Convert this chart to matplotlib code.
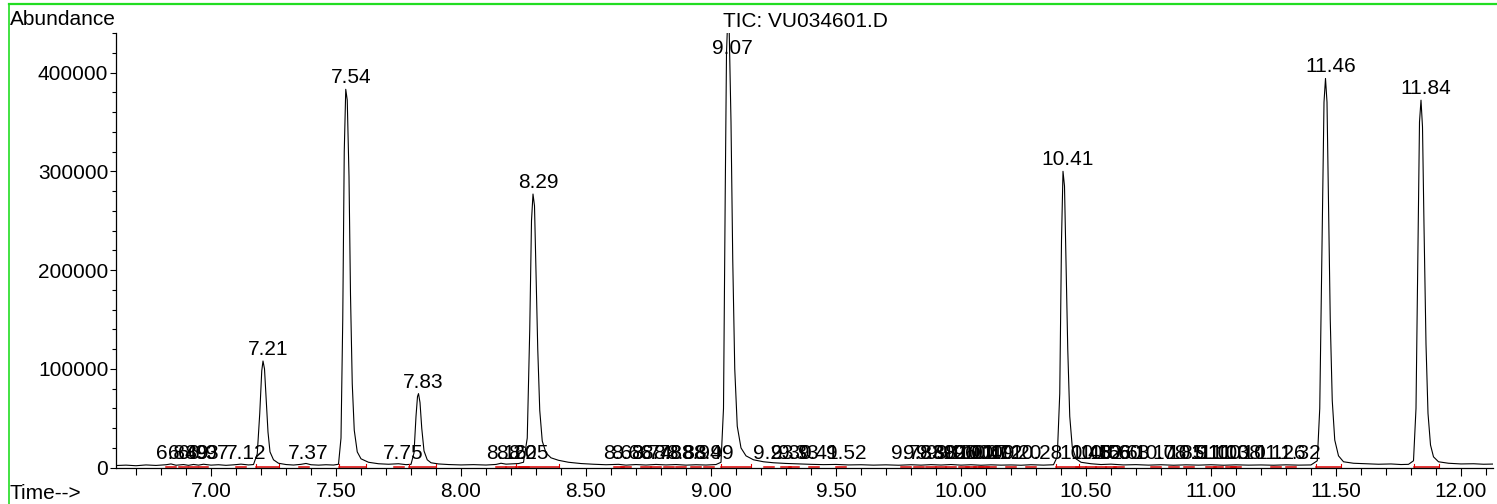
import matplotlib
matplotlib.use("Agg")
import matplotlib.pyplot as plt
from matplotlib.lines import Line2D
from matplotlib.ticker import MultipleLocator

plt.rcParams['font.family'] = ['Liberation Sans', 'DejaVu Sans']

# TIC trace (time in min, abundance)
times = [6.62, 6.66, 6.70, 6.74, 6.78, 6.82, 6.84, 6.86, 6.89, 6.91, 6.93, 6.95, 6.97, 7.00,
         7.03, 7.06, 7.09, 7.12, 7.15, 7.17, 7.185, 7.195, 7.203, 7.208, 7.214, 7.22, 7.228,
         7.236, 7.25, 7.27, 7.30, 7.33, 7.36, 7.38, 7.40, 7.43, 7.46, 7.49, 7.51, 7.52, 7.527,
         7.533, 7.539, 7.545, 7.552, 7.558, 7.565, 7.573, 7.585, 7.60, 7.63, 7.67, 7.71, 7.75,
         7.78, 7.80, 7.812, 7.82, 7.826, 7.830, 7.836, 7.843, 7.852, 7.865, 7.88, 7.91, 7.95,
         8.00, 8.05, 8.10, 8.14, 8.16, 8.18, 8.20, 8.23, 8.25, 8.265, 8.275, 8.282, 8.288,
         8.294, 8.30, 8.307, 8.315, 8.325, 8.34, 8.36, 8.39, 8.43, 8.48, 8.53, 8.58, 8.63,
         8.66, 8.70, 8.74, 8.78, 8.82, 8.86, 8.90, 8.94, 8.98, 9.02, 9.04, 9.05, 9.057, 9.062,
         9.067, 9.073, 9.08, 9.087, 9.095, 9.105, 9.12, 9.14, 9.17, 9.21, 9.25, 9.30, 9.35,
         9.40, 9.45, 9.50, 9.55, 9.60, 9.65, 9.70, 9.75, 9.80, 9.84, 9.88, 9.92, 9.96, 10.00,
         10.04, 10.08, 10.12, 10.16, 10.20, 10.24, 10.28, 10.33, 10.37, 10.385, 10.395, 10.402,
         10.408, 10.414, 10.42, 10.427, 10.435, 10.445, 10.46, 10.48, 10.52, 10.56, 10.60,
         10.65, 10.70, 10.75, 10.80, 10.85, 10.90, 10.95, 11.00, 11.05, 11.10, 11.15, 11.20,
         11.25, 11.30, 11.35, 11.40, 11.425, 11.435, 11.445, 11.452, 11.458, 11.464, 11.47,
         11.477, 11.485, 11.495, 11.51, 11.53, 11.57, 11.62, 11.67, 11.72, 11.76, 11.79, 11.81,
         11.82, 11.828, 11.834, 11.84, 11.846, 11.852, 11.86, 11.868, 11.878, 11.89, 11.91,
         11.95, 12.00, 12.05, 12.09, 12.13]
abundance = [2200, 2600, 2000, 2800, 2300, 3000, 3800, 2500, 3200, 2400, 3300, 2600, 3500, 2600,
             3000, 2400, 2900, 3600, 2800, 3200, 14000, 55000, 98000, 108000, 100000, 72000, 36000,
             16000, 8000, 4500, 3200, 2700, 3400, 4300, 3000, 2600, 3000, 2700, 3500, 30000, 150000,
             320000, 383000, 372000, 295000, 175000, 85000, 38000, 16000, 9000, 5500, 4000, 3500, 4000,
             3100, 3400, 15000, 52000, 72000, 75000, 66000, 40000, 17000, 8000, 5000, 3800, 3200,
             2800, 3100, 2700, 3300, 4500, 3600, 3800, 4200, 5500, 30000, 140000, 250000, 277000,
             265000, 200000, 120000, 58000, 27000, 15000, 10000, 7500, 5500, 4200, 3500, 3000, 3400,
             2600, 3200, 2700, 3300, 2800, 3200, 2600, 3000, 2700, 3200, 5500, 60000, 280000, 420000,
             455000, 440000, 350000, 210000, 100000, 42000, 20000, 12000, 8000, 6000, 5000, 4300, 3800,
             3400, 3100, 3300, 2800, 3000, 2600, 2900, 2500, 3000, 2600, 3100, 2700, 3200, 2600,
             3000, 2500, 2900, 2600, 2800, 2500, 3000, 2600, 3000, 11000, 75000, 230000,
             300000, 285000, 210000, 120000, 52000, 21000, 9000, 5500, 4000, 3200, 3600,
             2800, 3100, 2600, 3000, 2500, 2900, 2600, 3000, 2500, 2900, 2600, 2800,
             2500, 2900, 2600, 2800, 7000, 60000, 240000, 370000, 394000, 370000, 270000,
             150000, 68000, 28000, 12000, 6000, 4500, 4000, 3500, 3800, 3200, 3400, 7000,
             60000, 230000, 350000, 372000, 345000, 245000, 125000, 55000, 23000, 11000, 6000,
             4500, 3800, 4000, 3500, 3700]

# labelled main peaks
peak_rt = [7.208, 7.539, 7.830, 8.288, 9.067, 10.408, 11.458, 11.840]
peak_top = [108000, 383000, 75000, 277000, 455000, 300000, 394000, 372000]
peak_labels = ["7.21", "7.54", "7.83", "8.29", "9.07", "10.41", "11.46", "11.84"]

# integration windows of the main peaks
int_start = [7.18, 7.51, 7.79, 8.22, 9.04, 10.38, 11.42, 11.81]
int_end = [7.27, 7.62, 7.90, 8.39, 9.16, 10.47, 11.52, 11.91]

# small peaks along the baseline
small_labels = ["6.84", "6.89", "6.93", "6.97", "7.12", "7.37", "7.75",
                "8.16", "8.20", "8.25",
                "8.63", "8.66", "8.74", "8.78", "8.83", "8.88", "8.94", "8.99",
                "9.23", "9.30", "9.33", "9.41", "9.52",
                "9.78", "9.83", "9.88", "9.92", "9.96", "10.01", "10.04", "10.07", "10.09",
                "10.12", "10.20", "10.28",
                "10.48", "10.52", "10.56", "10.60", "10.63", "10.78", "10.85", "10.91",
                "11.00", "11.03", "11.08", "11.10", "11.26", "11.32"]
small_base = 2800

fig = plt.figure(figsize=(14.97, 5.04), dpi=100)
ax = fig.add_axes([116 / 1497, 1 - 467.7 / 504, 1377 / 1497, 434.7 / 504])

ax.plot(times, abundance, color='black', lw=0.8)

# red integration baselines
red = '#e00000'
for s, e in zip(int_start, int_end):
    ax.plot([s, e], [900, 900], color=red, lw=1.1)
    ax.plot([s, s], [0, 3500], color=red, lw=0.8)
    ax.plot([e, e], [0, 3500], color=red, lw=0.8)
for s in small_labels:
    v = float(s)
    ax.plot([v - 0.02, v + 0.02], [900, 900], color=red, lw=1.1)

fs = 15
for rt, top, lab in zip(peak_rt, peak_top, peak_labels):
    ax.annotate(lab, (rt, min(top, 413000)), xytext=(3.6, 4.3), textcoords='offset points',
                ha='center', va='baseline', fontsize=fs, annotation_clip=False)
for s in small_labels:
    ax.annotate(s, (float(s), small_base), xytext=(3.6, 4.3), textcoords='offset points',
                ha='center', va='baseline', fontsize=fs)

ax.set_xlim(6.62, 12.128)
ax.set_ylim(0, 440000)

ax.spines['top'].set_visible(False)
ax.spines['right'].set_visible(False)
ax.spines['left'].set_linewidth(0.9)
ax.spines['bottom'].set_linewidth(0.9)

ax.xaxis.set_major_locator(MultipleLocator(0.5))
ax.xaxis.set_minor_locator(MultipleLocator(0.1))
ax.xaxis.set_major_formatter(lambda v, p: f"{v:.2f}")
ax.yaxis.set_major_locator(MultipleLocator(100000))
ax.yaxis.set_minor_locator(MultipleLocator(20000))
ax.yaxis.set_major_formatter(lambda v, p: f"{v:.0f}")

ax.tick_params(axis='x', which='major', direction='out', length=6, width=0.8, pad=4, labelsize=fs)
ax.tick_params(axis='x', which='minor', direction='out', length=5, width=0.8)
ax.tick_params(axis='y', which='major', direction='out', length=4.5, width=0.8, pad=1, labelsize=fs)
ax.tick_params(axis='y', which='minor', direction='out', length=3, width=0.8)

fig.text(10 / 1497, 1 - 25 / 504, "Abundance", fontsize=fs, ha='left', va='baseline')
fig.text(805 / 1497, 1 - 27 / 504, "TIC: VU034601.D", fontsize=fs, ha='center', va='baseline')
fig.text(10 / 1497, 1 - 499 / 504, "Time-->", fontsize=fs, ha='left', va='baseline')

# green window frame
green = '#22dd22'
fig.add_artist(Line2D([9 / 1497, 1], [1 - 4 / 504, 1 - 4 / 504], color=green, lw=1.6))
fig.add_artist(Line2D([9 / 1497, 9 / 1497], [0, 1 - 4 / 504], color=green, lw=1.2))

fig.savefig("out.png", dpi=100)
